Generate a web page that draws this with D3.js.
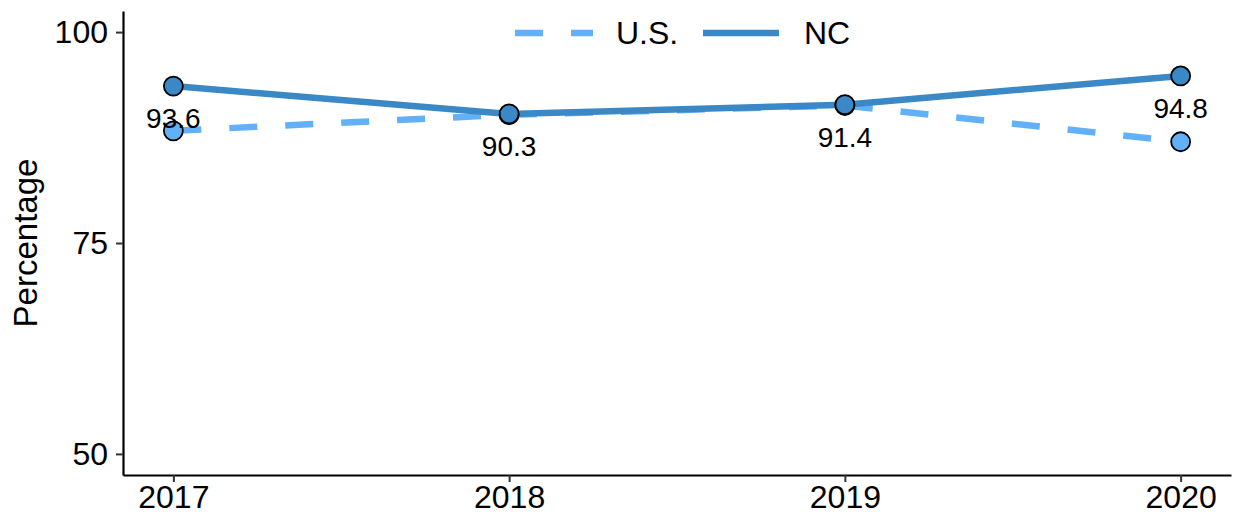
<!DOCTYPE html>
<html><head><meta charset="utf-8">
<script src="https://cdn.jsdelivr.net/npm/d3@7"></script>
<style>body{margin:0;background:#fff;} text{font-family:"Liberation Sans",Arial,sans-serif;}</style>
</head><body>
<svg id="chart" width="1236" height="515"></svg>
<script>
const years = [2017, 2018, 2019, 2020];
const usValues = [88.3, 90.2, 91.3, 87.0];
const ncValues = [93.6, 90.3, 91.4, 94.8];
const yTicks = [50, 75, 100];
const seriesNames = ["U.S.", "NC"];
const colors = {"U.S.": "#62b0f7", "NC": "#3a88c5"};

const svg = d3.select("#chart");
const x = d3.scaleLinear().domain([2017 - 0.15, 2020 + 0.15]).range([123, 1231]);
const y = d3.scaleLinear().domain([47.5, 102.5]).range([475, 11]);

// axes
const xAxis = svg.append("g").attr("transform", "translate(0,475)")
  .call(d3.axisBottom(x).tickValues(years).tickFormat(d3.format("d")).tickSize(7).tickSizeOuter(0));
xAxis.select(".domain").attr("stroke", "#000").attr("stroke-width", 2.2);
xAxis.selectAll(".tick line").attr("stroke", "#333").attr("stroke-width", 2);
xAxis.selectAll("text").attr("font-size", 32).attr("fill", "#000").attr("y", 10);

const yAxis = svg.append("g").attr("transform", "translate(123,0)")
  .call(d3.axisLeft(y).tickValues(yTicks).tickSize(7).tickSizeOuter(0));
yAxis.select(".domain").attr("stroke", "#000").attr("stroke-width", 2.2);
yAxis.selectAll(".tick line").attr("stroke", "#333").attr("stroke-width", 2);
yAxis.selectAll("text").attr("font-size", 32).attr("fill", "#000").attr("x", -15);

svg.append("text").attr("transform", "translate(37,243) rotate(-90)")
  .attr("text-anchor", "middle").attr("font-size", 33).text("Percentage");

const line = d3.line().x((d, i) => x(years[i])).y(d => y(d));

svg.append("path").datum(usValues).attr("d", line).attr("fill", "none")
  .attr("stroke", colors["U.S."]).attr("stroke-width", 6.5).attr("stroke-dasharray", "28,28");
svg.append("path").datum(ncValues).attr("d", line).attr("fill", "none")
  .attr("stroke", colors["NC"]).attr("stroke-width", 6.5);

svg.selectAll(".usPt").data(usValues).enter().append("circle")
  .attr("cx", (d, i) => x(years[i])).attr("cy", d => y(d)).attr("r", 9.5)
  .attr("fill", colors["U.S."]).attr("stroke", "#000").attr("stroke-width", 1.8);
svg.selectAll(".ncPt").data(ncValues).enter().append("circle")
  .attr("cx", (d, i) => x(years[i])).attr("cy", d => y(d)).attr("r", 9.5)
  .attr("fill", colors["NC"]).attr("stroke", "#000").attr("stroke-width", 1.8);

svg.selectAll(".ncLbl").data(ncValues).enter().append("text")
  .attr("x", (d, i) => x(years[i])).attr("y", d => y(d) + 42)
  .attr("text-anchor", "middle").attr("font-size", 28).text(d => d3.format(".1f")(d));

// legend
const lg = svg.append("g");
lg.append("line").attr("x1", 515).attr("x2", 593).attr("y1", 33).attr("y2", 33)
  .attr("stroke", colors["U.S."]).attr("stroke-width", 6.5).attr("stroke-dasharray", "28,28");
lg.append("text").attr("x", 616).attr("y", 44).attr("font-size", 32).text(seriesNames[0]);
lg.append("line").attr("x1", 703).attr("x2", 779).attr("y1", 33).attr("y2", 33)
  .attr("stroke", colors["NC"]).attr("stroke-width", 6.5);
lg.append("text").attr("x", 804).attr("y", 44).attr("font-size", 32).text(seriesNames[1]);
</script>
</body></html>
